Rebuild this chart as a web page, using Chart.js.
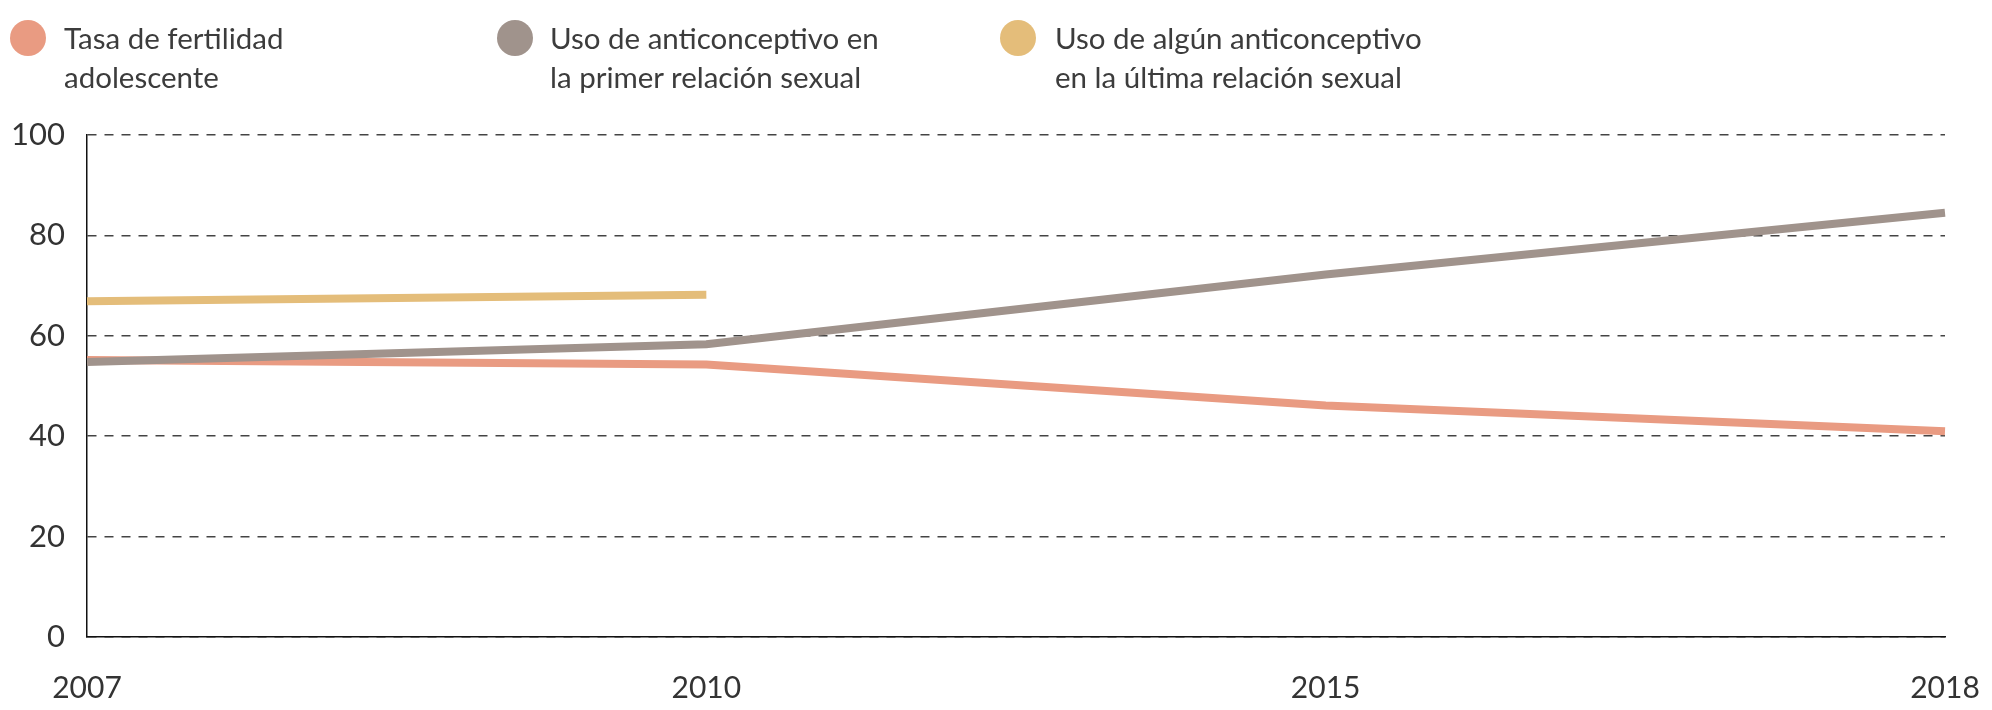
<!DOCTYPE html>
<html>
<head>
<meta charset="utf-8">
<script src="https://cdn.jsdelivr.net/npm/chart.js@4.4.1/dist/chart.umd.min.js"></script>
<style>
    html, body { margin: 0; padding: 0; background: #fff; }
    #wrap { position: relative; width: 1992px; height: 710px; }
    #myChart { position: absolute; left: 0; top: 0; }
    .leg { position: absolute; top: 18px; font-family: Lato, sans-serif; font-size: 29.5px; line-height: 39px; color: #3c3c3c; }
    .dot { position: absolute; top: 20px; width: 36px; height: 36px; border-radius: 50%; }
</style>
</head>
<body>
<div id="wrap">
    <canvas id="myChart" width="1992" height="710"></canvas>
    <div class="dot" style="left:10px;background:#e99b82"></div>
    <div class="leg" style="left:64px">Tasa de fertilidad<br>adolescente</div>
    <div class="dot" style="left:497px;background:#a0938c"></div>
    <div class="leg" style="left:550px">Uso de anticonceptivo en<br>la primer relación sexual</div>
    <div class="dot" style="left:1000px;background:#e4bd7a"></div>
    <div class="leg" style="left:1055px">Uso de algún anticonceptivo<br>en la última relación sexual</div>
</div>
<script>
var years = ['2007', '2010', '2015', '2018'];
var fertilidad = [55.2, 54.3, 46.1, 41.0];
var primerRelacion = [54.8, 58.3, 72.2, 84.5];
var ultimaRelacion = [66.9, 68.2, null, null];
var yTicks = [0, 20, 40, 60, 80, 100];

var ctx = document.getElementById('myChart').getContext('2d');
var myChart = new Chart(ctx, {
    type: 'line',
    data: {
        labels: years,
        datasets: [{
                label: 'Uso de anticonceptivo en la primer relación sexual',
                data: primerRelacion,
                borderColor: '#a0938c',
                order: 0
            },
            {
                label: 'Tasa de fertilidad adolescente',
                data: fertilidad,
                borderColor: '#e99b82',
                order: 1
            },
            {
                label: 'Uso de algún anticonceptivo en la última relación sexual',
                data: ultimaRelacion,
                borderColor: '#e4bd7a',
                order: 2
            }
        ]
    },
    options: {
        responsive: false,
        animation: false,
        spanGaps: false,
        layout: {
            padding: { top: 135, right: 47, left: 0, bottom: 0 }
        },
        elements: {
            line: { borderWidth: 8, tension: 0, borderCapStyle: 'butt', fill: false },
            point: { radius: 0, hoverRadius: 0 }
        },
        scales: {
            x: {
                type: 'category',
                offset: false,
                grid: { display: false, drawTicks: false },
                border: { display: true, color: '#111', width: 1.5 },
                ticks: {
                    padding: 33,
                    maxRotation: 0,
                    color: '#333',
                    font: { family: 'Lato', size: 30 }
                },
                afterFit: function (scale) {
                    scale.height = 73;
                    scale.paddingLeft = 0;
                    scale.paddingRight = 0;
                }
            },
            y: {
                min: 0,
                max: 100,
                afterBuildTicks: function (scale) {
                    scale.ticks = yTicks.map(function (v) { return { value: v }; });
                },
                grid: { color: '#444', lineWidth: 1.5, drawTicks: false },
                // in v4 border.dash sets the dash of the grid lines
                border: { display: true, color: '#111', width: 1.5, dash: [9, 8] },
                ticks: {
                    padding: 22,
                    color: '#333',
                    font: { family: 'Lato', size: 31 }
                },
                afterFit: function (scale) { scale.width = 87; }
            }
        },
        plugins: {
            legend: { display: false },
            tooltip: { enabled: false }
        }
    }
});
</script>
</body>
</html>
